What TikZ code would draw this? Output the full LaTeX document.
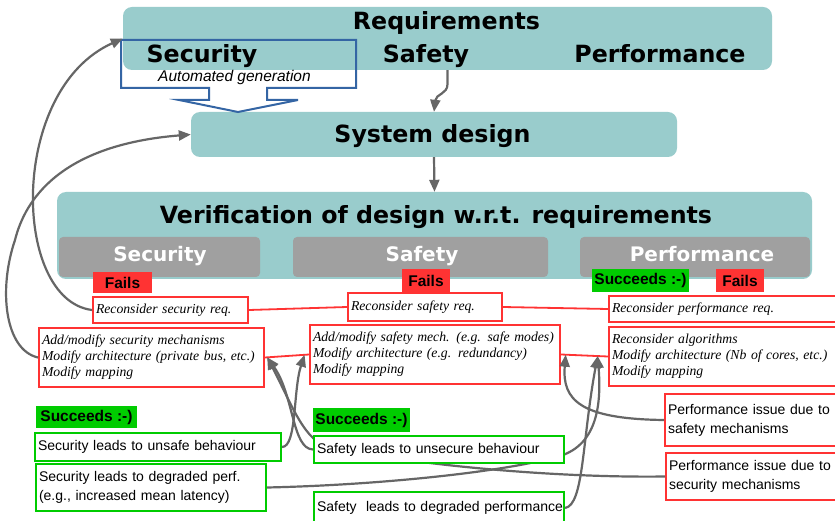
\documentclass[tikz,border=0pt]{standalone}
\usepackage{fontspec}
\newfontfamily\dejavu{DejaVu Sans}
\newfontfamily\lsans{Liberation Sans}
\newfontfamily\lserif{Liberation Serif}
\usetikzlibrary{arrows.meta,calc}
\definecolor{tealc}{HTML}{99CCCC}
\definecolor{greyc}{HTML}{A0A0A0}
\definecolor{redc}{HTML}{FF3333}
\definecolor{greenc}{HTML}{00CC00}
\definecolor{connc}{HTML}{666666}
\definecolor{bluec}{HTML}{3465A4}
\newcommand\hfont[1]{\dejavu\bfseries\fontsize{#1}{#1}\selectfont}
\begin{document}
\begin{tikzpicture}[x=1pt,y=-1pt,
  tealbox/.style={fill=tealc, rounded corners=9pt, inner sep=0pt},
  greybox/.style={fill=greyc, rounded corners=4pt, inner sep=0pt},
  head/.style={font=\hfont{23.7}, anchor=base, inner sep=0pt},
  subhead/.style={font=\hfont{20}, text=white, anchor=base, inner sep=0pt},
  flag/.style={font=\lsans\bfseries\fontsize{15.5}{18}\selectfont, inner sep=0pt},
  fails/.style={flag, fill=redc},
  succ/.style={flag, fill=greenc},
  redbox/.style={draw=redc, line width=2pt, fill=white, inner xsep=3pt, inner ysep=0pt, align=left},
  greenbox/.style={draw=greenc, line width=2pt, fill=white, inner xsep=3pt, inner ysep=0pt, align=left},
  ital/.style={font=\lserif\itshape\fontsize{13.7}{16}\selectfont},
  sans/.style={font=\lsans\fontsize{14}{19}\selectfont},
  redline/.style={draw=redc, line width=1.8pt},
  conn/.style={draw=connc, line width=2.2pt, -{Triangle[length=12pt,width=10pt]}},
]
\useasboundingbox (0,0) rectangle (835,521);
\fill[white] (0,0) rectangle (835,521);

% Requirements
\node[tealbox, minimum width=649pt, minimum height=63pt] (req) at (447.5,38.5) {};
\node[head] (reqT) at (446.5,30) {Requirements};
\node[head] (reqSec) at (202,63) {Security};
\node[head] (reqSaf) at (426,63) {Safety};
\node[head] (reqPerf) at (660,63) {Performance};

% System design
\node[tealbox, minimum width=486pt, minimum height=45pt] (sysd) at (434,134.5) {};
\node[head] (sysdT) at (432.5,143) {System design};

% automated generation callout
\draw[bluec, line width=2pt, line join=miter] (121,40) -- (356,40) -- (356,88) -- (267,88) -- (267,100) -- (298,100) -- (238,112) -- (179,100) -- (209,100) -- (209,88) -- (121,88) -- cycle;
\node[font=\lsans\itshape\fontsize{15.5}{18}\selectfont, anchor=base, inner sep=0pt] (autog) at (234.5,82) {Automated generation};

% Verification
\node[tealbox, minimum width=755pt, minimum height=87pt] (ver) at (434.5,235.5) {};
\node[head] (verT) at (436,224) {Verification of design w.r.t. requirements};
\node[greybox, minimum width=201pt, minimum height=40pt] (gSec) at (159.5,257) {};
\node[subhead] (gSecT) at (160,262) {Security};
\node[greybox, minimum width=255pt, minimum height=40pt] (gSaf) at (420.5,257) {};
\node[subhead] (gSafT) at (422,262) {Safety};
\node[greybox, minimum width=230pt, minimum height=40pt] (gPerf) at (695,257) {};
\node[subhead] (gPerfT) at (702,262) {Performance};

% flags
\node[fails, minimum width=59pt, minimum height=21pt] (f1) at (122.5,282.5) {Fails};
\node[fails, minimum width=48pt, minimum height=23pt] (f2) at (426,280.5) {Fails};
\node[succ, minimum width=97pt, minimum height=23pt] (s3) at (640.5,280.5) {Succeeds :-)};
\node[fails, minimum width=48pt, minimum height=23pt] (f3) at (740,280.5) {Fails};

% red boxes
\node[redbox, ital, text width=149pt, minimum height=26pt] (rsec) at (170.5,310) {Reconsider security req.};
\node[redbox, ital, text width=148pt, minimum height=28pt] (rsaf) at (425,307) {Reconsider safety req.};
\node[redbox, ital, text width=223pt, minimum height=26pt] (rperf) at (723.5,309) {Reconsider performance req.};
\node[redbox, ital, text width=219pt, minimum height=59pt] (msec) at (151.5,357.5) {\mbox{Add/modify security mechanisms}\\\mbox{Modify architecture (private bus, etc.)}\\Modify mapping};
\node[redbox, ital, text width=244pt, minimum height=59pt] (msaf) at (435,354.5) {\mbox{Add/modify safety mech. (e.g. safe modes)}\\\mbox{Modify architecture (e.g. redundancy)}\\Modify mapping};
\node[redbox, ital, text width=223pt, minimum height=59pt] (mperf) at (723.5,356.5) {Reconsider algorithms\\\mbox{Modify architecture (Nb of cores, etc.)}\\Modify mapping};

\draw[redline] (rsec.east) -- (rsaf.west);
\draw[redline] (rsaf.east) -- (rperf.west);
\draw[redline] (msec.east) -- (msaf.west);
\draw[redline] (msaf.east) -- (mperf.west);

\node[redbox, sans, text width=167pt, minimum height=52pt] (psaf) at (751.5,420) {Performance issue due to\\safety mechanisms};
\node[redbox, sans, text width=166pt, minimum height=47pt] (psec) at (752,476.5) {Performance issue due to\\security mechanisms};

% green
\node[succ, minimum width=101pt, minimum height=22pt] (s1) at (86.5,417) {Succeeds :-)};
\node[greenbox, sans, text width=240pt, minimum height=28pt] (gsu) at (158,447) {\mbox{Security leads to unsafe behaviour}};
\node[greenbox, sans, text width=224pt, minimum height=47pt] (gsd) at (151,487.5) {\mbox{Security leads to degraded perf.}\\\mbox{(e.g., increased mean latency)}};
\node[succ, minimum width=97pt, minimum height=24pt] (s2) at (361.5,420) {Succeeds :-)};
\node[greenbox, sans, text width=244pt, minimum height=32pt] (gfd) at (439,508) {\mbox{Safety~ leads to degraded performance}};

% arrow targets on the red links
\coordinate (tA) at ($(msec.east)!0.05!(msaf.west)$);
\coordinate (tB) at ($(msec.east)!0.9!(msaf.west)$);
\coordinate (tC) at ($(msaf.east)!0.1!(mperf.west)$);
\coordinate (tD) at ($(msaf.east)!0.78!(mperf.west)$);

% connectors passing behind the "Safety leads to unsecure behaviour" box
\draw[conn] (psec.west) .. controls (560,478) and (420,466) .. (330,447) .. controls (305,443) and (292,405) .. (tA);
\draw[conn] (gsd.east) .. controls (380,485) and (500,472) .. (552,458) .. controls (595,450) and (602,410) .. (tD);
\node[greenbox, sans, text width=244pt, minimum height=27pt] (gfu) at (439,449.5) {\mbox{Safety leads to unsecure behaviour}};

\draw[conn] (gsu.east) .. controls (297,447) and (293,390) .. (tB);
\draw[conn] (gfu.west) .. controls (292,449) and (294,395) .. (tA);
\draw[conn] (gfd.east) .. controls (584,505) and (582,440) .. (tD);
\draw[conn] (psaf.west) .. controls (580,419) and (562,400) .. (tC);

% feedback loops
\draw[conn] (rsec.west) .. controls (12,300) and (8,90) .. (req.west);
\draw[conn] (msec.west) .. controls (5,350) and (-2,290) .. (15,240) .. controls (25,200) and (60,145) .. (sysd.west);

% main flow
\draw[conn] (req.south) -- ([yshift=-14pt]req.south) .. controls ([yshift=-24pt]req.south) and ([xshift=2pt,yshift=18pt]sysd.north) .. (sysd.north);
\draw[conn] (sysd.south) -- (ver.north);
\end{tikzpicture}
\end{document}
